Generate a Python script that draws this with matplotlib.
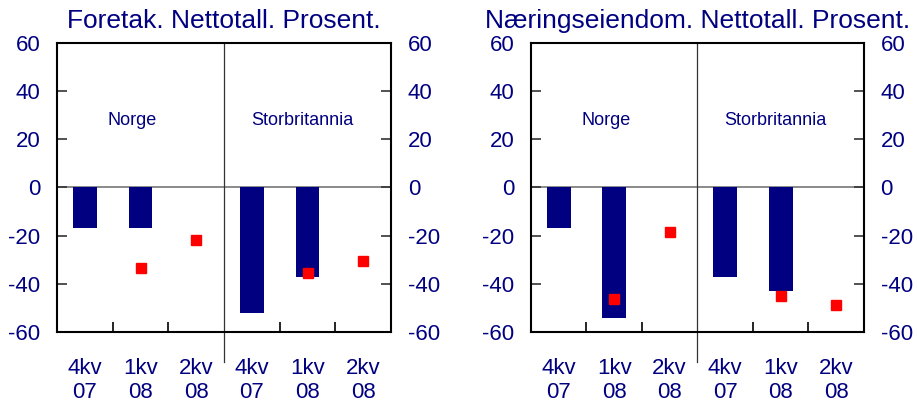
import numpy as np
import matplotlib
matplotlib.use('Agg')
import matplotlib.pyplot as plt

plt.rcParams['font.family'] = ['Liberation Sans', 'DejaVu Sans']
plt.rcParams['axes.unicode_minus'] = False

# Data
kvartaler = ['4kv\n07', '1kv\n08', '2kv\n08', '4kv\n07', '1kv\n08', '2kv\n08']

# Foretak (Norge, Storbritannia) - bars = faktisk, squares = forventet
foretak_bar = [-17, -17, np.nan, -52, -37, np.nan]
foretak_pkt = [np.nan, -33.5, -22, np.nan, -35.5, -30.5]

# Næringseiendom
eiendom_bar = [-17, -54, np.nan, -37, -43, np.nan]
eiendom_pkt = [np.nan, -46.5, -18.5, np.nan, -45, -49]

titler = ['Foretak. Nettotall. Prosent.', 'Næringseiendom. Nettotall. Prosent.']
land = ['Norge', 'Storbritannia']

navy = '#000080'
red = '#ff0000'

fig = plt.figure(figsize=(9.17, 4.08), dpi=100)
ax1 = fig.add_axes([0.0622, 0.1863, 0.3642, 0.7083])
ax2 = fig.add_axes([0.579, 0.1863, 0.3631, 0.7083])

x = np.arange(len(kvartaler))

for ax, bars, pkt, tittel in [(ax1, foretak_bar, foretak_pkt, titler[0]),
                              (ax2, eiendom_bar, eiendom_pkt, titler[1])]:
    ax.bar(x, bars, width=0.43, color=navy, zorder=2)
    ax.plot(x, pkt, 's', color=red, markersize=6.5, zorder=3, linestyle='none')
    ax.axhline(0, color='#777777', lw=1.2, zorder=1)
    ax.axvline(2.5, ymin=-0.104, ymax=1, color='#333333', lw=0.9, clip_on=False, zorder=1)

    ax.set_xlim(-0.5, 5.5)
    ax.set_ylim(-60, 60)
    ax.set_yticks(np.arange(-60, 61, 20))

    # boundaries as tick marks, labels centred on each quarter
    ax.set_xticks([0.5, 1.5, 3.5, 4.5])
    ax.set_xticklabels([])
    ax.set_xticks(x, minor=True)
    ax.set_xticklabels(kvartaler, minor=True)
    ax.tick_params(axis='x', which='major', direction='in', length=7, width=1.2, color='black')
    ax.tick_params(axis='x', which='minor', length=0, pad=18.5, labelsize=16, labelcolor=navy)
    ax.tick_params(axis='y', direction='in', length=7, width=1.2, color='#333333',
                   left=True, right=True, labelleft=True, labelright=True,
                   labelsize=16, labelcolor=navy, pad=12)

    for s in ax.spines.values():
        s.set_linewidth(1.5)
        s.set_color('black')

    ax.text(0.85, 28, land[0], ha='center', va='center', fontsize=13, color=navy)
    ax.text(3.9, 28, land[1], ha='center', va='center', fontsize=13, color=navy)
    ax.set_title(tittel, fontsize=19, color=navy, pad=11)

fig.savefig('out.png', dpi=100)
